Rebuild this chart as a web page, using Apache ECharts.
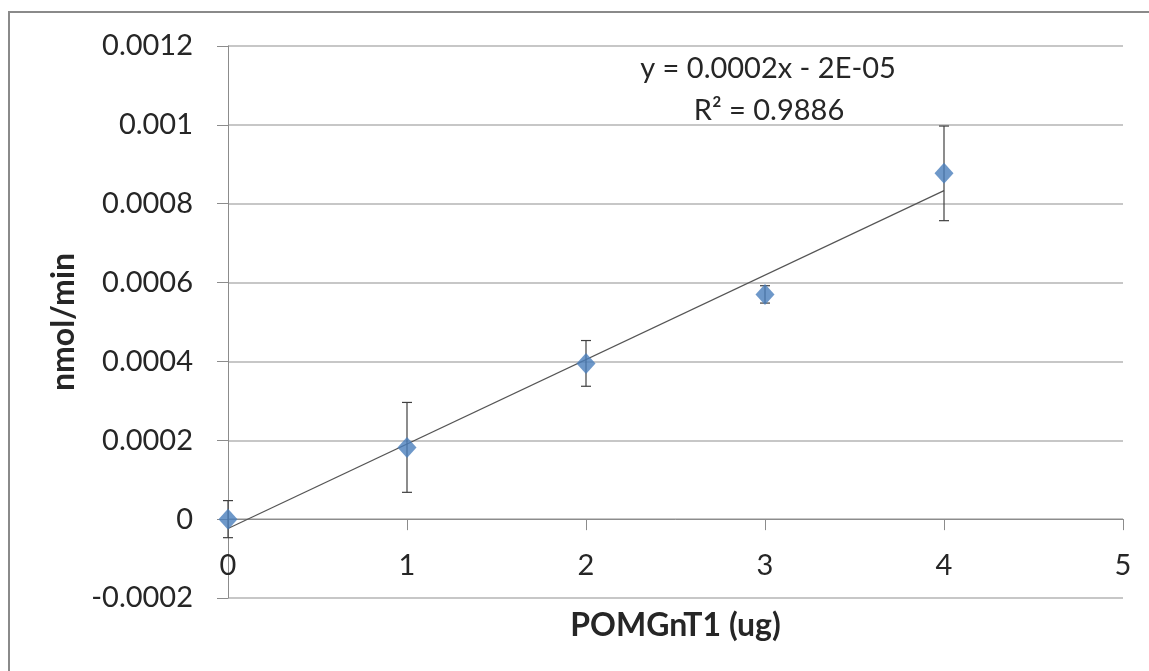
<!DOCTYPE html>
<html>
<head>
<meta charset="utf-8">
<script src="https://cdn.jsdelivr.net/npm/echarts@6/dist/echarts.min.js"></script>
<style>
html,body{margin:0;padding:0;background:#fff;}
#chart{width:1149px;height:671px;}
</style>
</head>
<body>
<div id="chart"></div>
<script>
// Data
const xValues = [0, 1, 2, 3, 4];
const yValues = [0, 0.000182, 0.000395, 0.00057, 0.000877];
const yErrors = [0.000047, 0.000114, 0.000058, 0.000022, 0.00012];
const equationLines = ['y = 0.0002x - 2E-05', 'R\u00B2 = 0.9886'];
const xAxisTitle = 'POMGnT1 (ug)';
const yAxisTitle = 'nmol/min';

// least-squares trendline from the data
const n = xValues.length;
const mx = xValues.reduce((a, b) => a + b, 0) / n;
const my = yValues.reduce((a, b) => a + b, 0) / n;
let sxy = 0, sxx = 0;
for (let i = 0; i < n; i++) { sxy += (xValues[i] - mx) * (yValues[i] - my); sxx += (xValues[i] - mx) ** 2; }
const slope = sxy / sxx;
const intercept = my - slope * mx;
const xMinData = Math.min(...xValues), xMaxData = Math.max(...xValues);
const trend = [[xMinData, intercept + slope * xMinData], [xMaxData, intercept + slope * xMaxData]];

const points = xValues.map((x, i) => [x, yValues[i]]);
const errData = xValues.map((x, i) => [x, yValues[i] - yErrors[i], yValues[i] + yErrors[i]]);

const FONT = 'Lato, "Open Sans", sans-serif';
const chart = echarts.init(document.getElementById('chart'), null, { renderer: 'canvas' });
chart.setOption({
  animation: false,
  backgroundColor: '#ffffff',
  grid: { left: 228, right: 26, top: 46, bottom: 73, containLabel: false, outerBoundsMode: 'none' },
  graphic: [
    { type: 'rect', shape: { x: 9, y: 12, width: 1300, height: 800 }, style: { fill: 'none', stroke: '#8a8a8a', lineWidth: 2 }, silent: true, z: 100 },
    { type: 'text', x: 768, y: 69, style: { text: equationLines[0], font: '29px ' + FONT, fill: '#262626', textAlign: 'center', textVerticalAlign: 'middle' }, z: 50 },
    { type: 'text', x: 769, y: 111, style: { text: equationLines[1], font: '29px ' + FONT, fill: '#262626', textAlign: 'center', textVerticalAlign: 'middle' }, z: 50 }
  ],
  xAxis: {
    type: 'value', min: 0, max: 5, interval: 1,
    axisLine: { show: true, onZero: true, lineStyle: { color: '#8c8c8c', width: 1 } },
    axisTick: { show: true, inside: false, length: 11, lineStyle: { color: '#8c8c8c' } },
    axisLabel: { fontFamily: FONT, fontSize: 29, color: '#262626', margin: -47 },
    splitLine: { show: false },
    name: xAxisTitle, nameLocation: 'middle', nameGap: 12,
    nameTextStyle: { fontFamily: FONT, fontSize: 32, fontWeight: 'bold', color: '#262626' }
  },
  yAxis: {
    type: 'value', min: -0.0002, max: 0.0012, interval: 0.0002,
    axisLine: { show: true, onZero: true, lineStyle: { color: '#8c8c8c', width: 1 } },
    axisTick: { show: true, inside: false, length: 11, lineStyle: { color: '#8c8c8c' } },
    axisLabel: { fontFamily: FONT, fontSize: 29, color: '#262626', margin: 35,
      formatter: v => String(Number(v.toFixed(4))) },
    splitLine: { show: true, lineStyle: { color: '#b4b4b4', width: 1.5 } },
    name: yAxisTitle, nameLocation: 'middle', nameGap: 148, nameRotate: 90,
    nameTextStyle: { fontFamily: FONT, fontSize: 32, fontWeight: 'bold', color: '#262626' }
  },
  series: [
    {
      type: 'line', data: trend, symbol: 'none', z: 3,
      lineStyle: { color: '#555555', width: 1.2 }
    },
    {
      type: 'custom', z: 4,
      data: errData,
      encode: { x: 0, y: [1, 2] },
      renderItem: function (params, api) {
        const x = api.value(0);
        const lo = api.coord([x, api.value(1)]);
        const hi = api.coord([x, api.value(2)]);
        const cap = 5;
        const st = { stroke: '#404040', lineWidth: 1.2 };
        return { type: 'group', children: [
          { type: 'line', shape: { x1: lo[0], y1: lo[1], x2: hi[0], y2: hi[1] }, style: st },
          { type: 'line', shape: { x1: lo[0] - cap, y1: lo[1], x2: lo[0] + cap, y2: lo[1] }, style: st },
          { type: 'line', shape: { x1: hi[0] - cap, y1: hi[1], x2: hi[0] + cap, y2: hi[1] }, style: st }
        ] };
      }
    },
    {
      type: 'scatter', data: points, symbol: 'diamond', symbolSize: [19, 21], z: 5,
      itemStyle: { color: '#4a7ebb' }
    }
  ]
});
</script>
</body>
</html>
